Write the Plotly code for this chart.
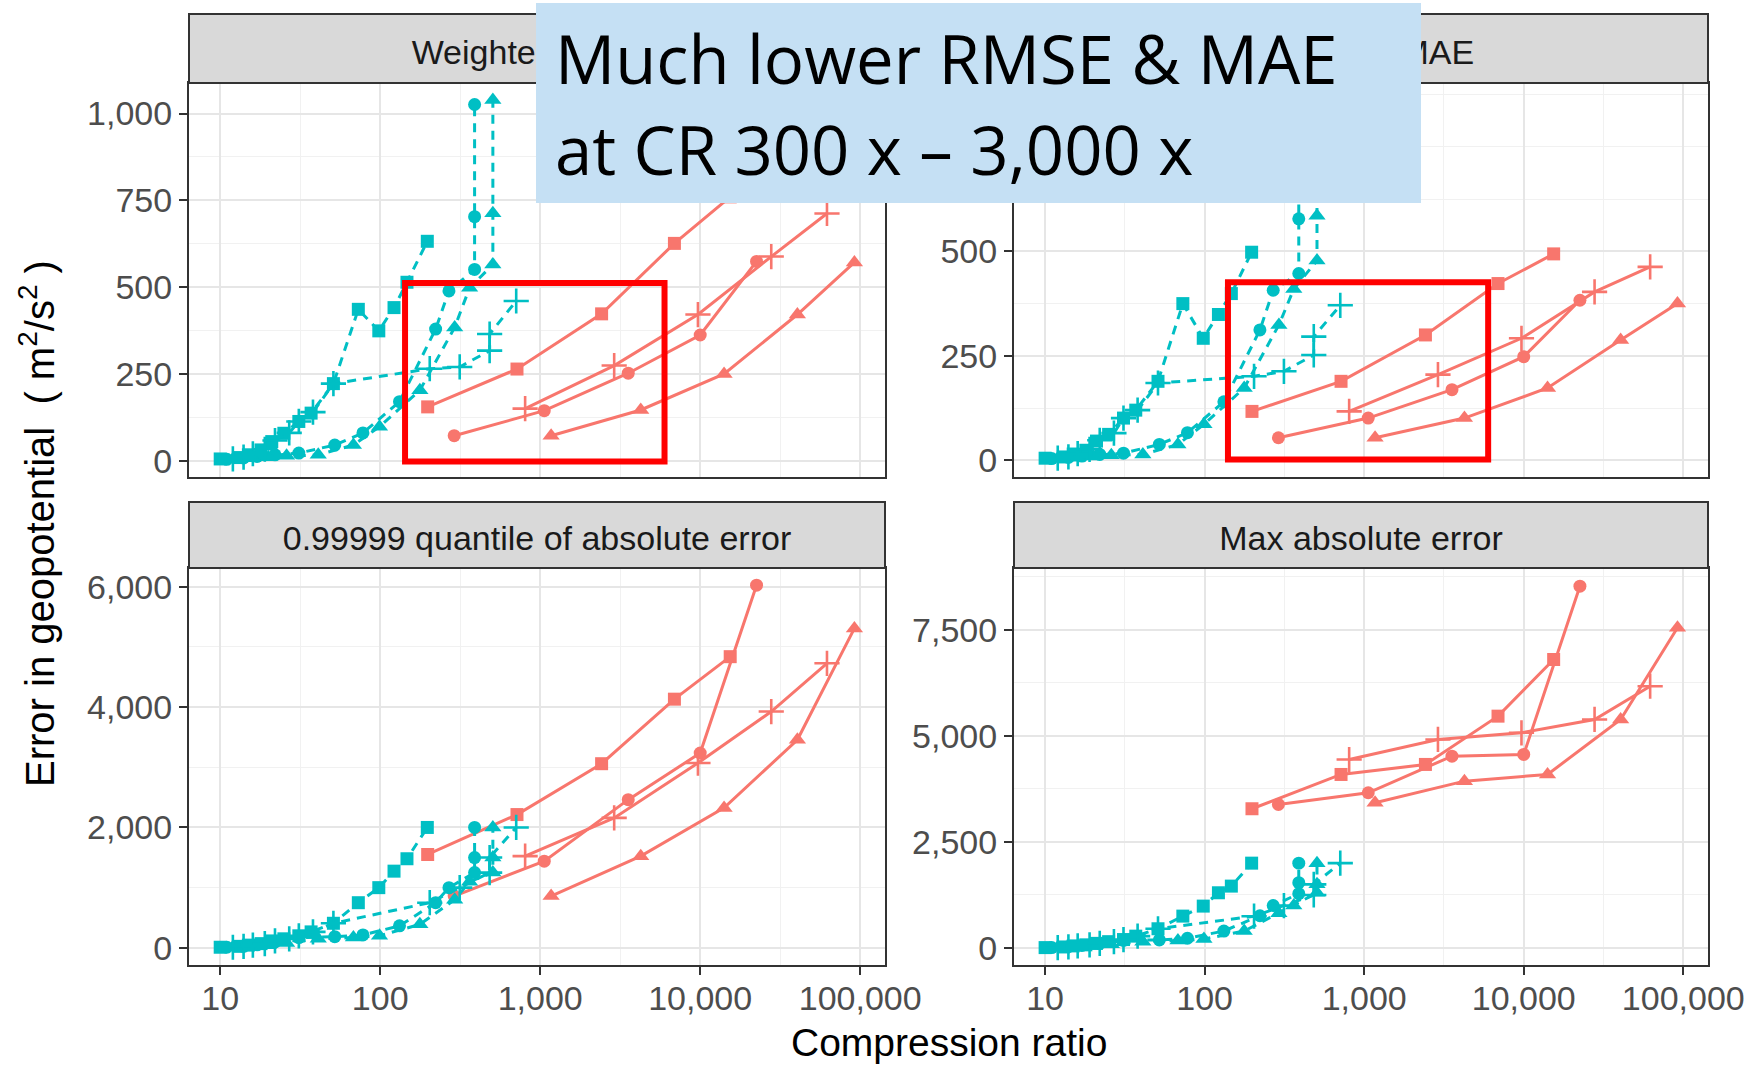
import plotly.graph_objects as go

# ---------------- data ----------------
panel_titles = ["Weighted RMSE", "Weighted MAE",
                "0.99999 quantile of absolute error", "Max absolute error"]
x_tick_vals = [10, 100, 1000, 10000, 100000]
x_tick_text = ["10", "100", "1,000", "10,000", "100,000"]
y_ticks_rmse = [0, 250, 500, 750, 1000]
y_ticks_mae = [0, 250, 500]
y_ticks_q = [0, 2000, 4000, 6000]
y_ticks_max = [0, 2500, 5000, 7500]

# red (solid) series
red_circle_cr = [290, 1060, 3550, 10000, 22500]
red_circle_rmse = [72, 144, 252, 362, 574]
red_circle_mae = [54, 101, 169, 248, 383]
red_circle_q = [860, 1440, 2462, 3236, 6025]
red_circle_max = [3383, 3659, 4521, 4561, 8526]

red_triangle_cr = [1170, 4250, 14100, 40500, 92000]
red_triangle_rmse = [72, 146, 250, 421, 571]
red_triangle_mae = [54, 101, 173, 288, 375]
red_triangle_q = [860, 1523, 2325, 3456, 5307]
red_triangle_max = [3423, 3932, 4090, 5386, 7546]

red_square_cr = [198, 716, 2420, 6900, 15400]
red_square_rmse = [155, 264, 423, 626, 760]
red_square_mae = [117, 189, 300, 423, 494]
red_square_q = [1551, 2214, 3059, 4131, 4837]
red_square_max = [3282, 4090, 4326, 5464, 6799]

red_plus_cr = [805, 2900, 9680, 27800, 62000]
red_plus_rmse = [150, 274, 421, 588, 712]
red_plus_mae = [117, 205, 292, 403, 463]
red_plus_q = [1523, 2159, 3070, 3925, 4727]
red_plus_max = [4443, 4915, 5072, 5386, 6170]

# cyan (dashed) series
cyan_circle_cr = [11, 14, 17, 22, 31, 52, 78, 132, 222, 269, 389, 389, 389]
cyan_circle_rmse = [4, 8, 12, 17, 22, 45, 80, 170, 379, 489, 551, 703, 1026]
cyan_circle_mae = [4, 7, 10, 14, 17, 38, 66, 140, 312, 407, 447, 578, 835]
cyan_circle_q = [10, 25, 50, 100, 170, 185, 215, 365, 750, 1000, 1250, 1500, 2000]
cyan_circle_max = [10, 30, 60, 110, 180, 190, 230, 400, 760, 1000, 1280, 1540, 2000]

cyan_triangle_cr = [12, 16, 20, 26, 41, 68, 99, 177, 292, 362, 506, 506, 506]
cyan_triangle_rmse = [4, 7, 10, 14, 17, 45, 98, 203, 384, 498, 565, 713, 1039]
cyan_triangle_mae = [4, 6, 9, 12, 14, 38, 86, 173, 324, 410, 478, 585, 860]
cyan_triangle_q = [10, 25, 45, 80, 150, 170, 200, 390, 800, 1100, 1250, 1500, 2000]
cyan_triangle_max = [10, 25, 50, 90, 150, 175, 210, 400, 820, 1000, 1300, 1500, 2000]

cyan_square_cr = [10, 13, 15, 18, 21, 25, 31, 37, 51, 73, 98, 122, 147, 197]
cyan_square_rmse = [5, 9, 17, 31, 55, 79, 113, 137, 222, 436, 374, 441, 514, 632]
cyan_square_mae = [5, 8, 15, 24, 46, 62, 101, 120, 189, 375, 292, 349, 399, 498]
cyan_square_q = [10, 25, 45, 70, 115, 150, 200, 265, 408, 750, 1000, 1274, 1480, 2000]
cyan_square_max = [10, 25, 50, 75, 110, 150, 200, 280, 454, 752, 988, 1302, 1459, 2000]

cyan_plus_cr = [12, 14, 16, 19, 22, 27, 31, 38, 51, 204, 314, 483, 483, 708]
cyan_plus_rmse = [5, 10, 20, 33, 58, 80, 113, 140, 222, 265, 270, 317, 365, 460]
cyan_plus_mae = [5, 8, 16, 26, 48, 65, 101, 120, 185, 201, 213, 252, 296, 371]
cyan_plus_q = [10, 25, 45, 70, 115, 150, 200, 265, 408, 750, 1000, 1250, 1500, 2000]
cyan_plus_max = [10, 25, 50, 75, 110, 150, 200, 280, 454, 750, 1000, 1250, 1500, 2000]

# ---------------- styling ----------------
W, H = 1752, 1066
RED = "#F8766D"
CYAN = "#00BFC4"
FONT = "Liberation Sans, Arial"

series = [
    (RED, "circle", red_circle_cr, [red_circle_rmse, red_circle_mae, red_circle_q, red_circle_max]),
    (RED, "triangle-up", red_triangle_cr, [red_triangle_rmse, red_triangle_mae, red_triangle_q, red_triangle_max]),
    (RED, "square", red_square_cr, [red_square_rmse, red_square_mae, red_square_q, red_square_max]),
    (RED, "cross-thin", red_plus_cr, [red_plus_rmse, red_plus_mae, red_plus_q, red_plus_max]),
    (CYAN, "circle", cyan_circle_cr, [cyan_circle_rmse, cyan_circle_mae, cyan_circle_q, cyan_circle_max]),
    (CYAN, "triangle-up", cyan_triangle_cr, [cyan_triangle_rmse, cyan_triangle_mae, cyan_triangle_q, cyan_triangle_max]),
    (CYAN, "square", cyan_square_cr, [cyan_square_rmse, cyan_square_mae, cyan_square_q, cyan_square_max]),
    (CYAN, "cross-thin", cyan_plus_cr, [cyan_plus_rmse, cyan_plus_mae, cyan_plus_q, cyan_plus_max]),
]

fig = go.Figure()
axis_ids = ["", "2", "3", "4"]
for color, sym, cr, panels in series:
    for p, vals in enumerate(panels):
        aid = axis_ids[p]
        thin = sym == "cross-thin"
        size = {"circle": 13, "triangle-up": 15, "square": 13, "cross-thin": 18}[sym]
        fig.add_trace(go.Scatter(
            x=cr, y=vals, mode="lines+markers",
            xaxis="x" + aid, yaxis="y" + aid,
            line=dict(color=color, width=3,
                      dash="solid" if color == RED else "9px,7px"),
            marker=dict(symbol=sym, size=size, color=color,
                        line=dict(color=color, width=2.6 if thin else 0)),
            showlegend=False, hoverinfo="skip"))

# panel geometry (pixels)
LX = (189, 885)
RX = (1014, 1708)
TY = (83, 477)      # top panels (px from top)
BY = (568, 965)     # bottom panels
TS = (14, 83)       # top strips
BS = (502, 568)     # bottom strips


def px(v):
    return v / W


def py(v):
    return 1 - v / H


grid_major = "#E6E6E6"
grid_minor = "#F1F1F1"
minor_x = [10 ** 1.5, 10 ** 2.5, 10 ** 3.5, 10 ** 4.5]

panel_geo = [(LX, TY), (RX, TY), (LX, BY), (RX, BY)]
y_ranges = [[-47, 1088], [-40, 903], [-285, 6310], [-400, 8955]]
y_ticks = [y_ticks_rmse, y_ticks_mae, y_ticks_q, y_ticks_max]
y_minor = [125, 125, 1000, 1250]

layout_axes = {}
for p, ((x0, x1), (y0, y1)) in enumerate(panel_geo):
    aid = axis_ids[p]
    bottom = p >= 2
    layout_axes["xaxis" + aid] = dict(
        type="log", domain=[px(x0), px(x1)], range=[0.805, 5.155],
        anchor="y" + aid, automargin=False,
        tickvals=x_tick_vals, ticktext=x_tick_text,
        showticklabels=bottom, ticks="outside" if bottom else "",
        ticklen=8, tickwidth=2.2, tickcolor="#333333",
        ticklabelstandoff=-6,
        tickfont=dict(family=FONT, size=34, color="#4D4D4D"),
        showgrid=True, gridcolor=grid_major, gridwidth=2,
        minor=dict(tickvals=minor_x, showgrid=True, gridcolor=grid_minor,
                   gridwidth=1.3, ticks=""),
        showline=True, linecolor="#333333", linewidth=2, mirror=True,
        zeroline=False,
    )
    yt = y_ticks[p]
    layout_axes["yaxis" + aid] = dict(
        domain=[py(y1), py(y0)], range=y_ranges[p], anchor="x" + aid,
        automargin=False,
        tickvals=yt, ticktext=[f"{v:,}" for v in yt],
        ticks="outside", ticklen=8, tickwidth=2.2, tickcolor="#333333",
        tickfont=dict(family=FONT, size=34, color="#4D4D4D"),
        showgrid=True, gridcolor=grid_major, gridwidth=2,
        minor=dict(dtick=y_minor[p], tick0=0, showgrid=True,
                   gridcolor=grid_minor, gridwidth=1.3, ticks=""),
        showline=True, linecolor="#333333", linewidth=2, mirror=True,
        zeroline=False,
    )

shapes = []
strip_geo = [(LX, TS), (RX, TS), (LX, BS), (RX, BS)]
for p, ((x0, x1), (s0, s1)) in enumerate(strip_geo):
    shapes.append(dict(
        type="rect", xref="paper", yref="paper", layer="above",
        x0=px(x0), x1=px(x1), y0=py(s1), y1=py(s0),
        fillcolor="#D9D9D9", line=dict(color="#333333", width=2),
        label=dict(text=panel_titles[p], textposition="middle center",
                   font=dict(family=FONT, size=34, color="#1A1A1A"))))

# highlight box
shapes.append(dict(type="rect", xref="paper", yref="paper", layer="above",
                   x0=px(536), x1=px(1421), y0=py(203), y1=py(3),
                   fillcolor="#C5E0F4", line=dict(width=0)))
# red rectangles
shapes.append(dict(type="rect", xref="x", yref="y", layer="above",
                   x0=143, x1=5985, y0=-2, y1=512,
                   line=dict(color="#FF0000", width=6)))
shapes.append(dict(type="rect", xref="x2", yref="y2", layer="above",
                   x0=140, x1=5985, y0=2, y1=426,
                   line=dict(color="#FF0000", width=6)))

annotations = [
    dict(text="Much lower RMSE &amp; MAE", xref="paper", yref="paper",
         x=px(553), y=py(58), xanchor="left", yanchor="middle", showarrow=False,
         font=dict(family="Open Sans", size=67, color="#000000")),
    dict(text="at CR 300 x \u2013 3,000 x", xref="paper", yref="paper",
         x=px(553), y=py(149), xanchor="left", yanchor="middle", showarrow=False,
         font=dict(family="Open Sans", size=67, color="#000000")),
    dict(text="Compression ratio", xref="paper", yref="paper",
         x=px(949), y=py(1042), xanchor="center", yanchor="middle", showarrow=False,
         font=dict(family=FONT, size=39, color="#000000")),
    dict(text="Error in geopotential  ( m<sup>2</sup>/s<sup>2</sup> )",
         xref="paper", yref="paper", textangle=-90,
         x=px(37), y=py(524), xanchor="center", yanchor="middle", showarrow=False,
         font=dict(family=FONT, size=40, color="#000000")),
]

fig.update_layout(
    width=W, height=H, margin=dict(l=0, r=0, t=0, b=0),
    paper_bgcolor="white", plot_bgcolor="white",
    shapes=shapes, annotations=annotations, showlegend=False,
    **layout_axes)

fig.write_html("out.html")
